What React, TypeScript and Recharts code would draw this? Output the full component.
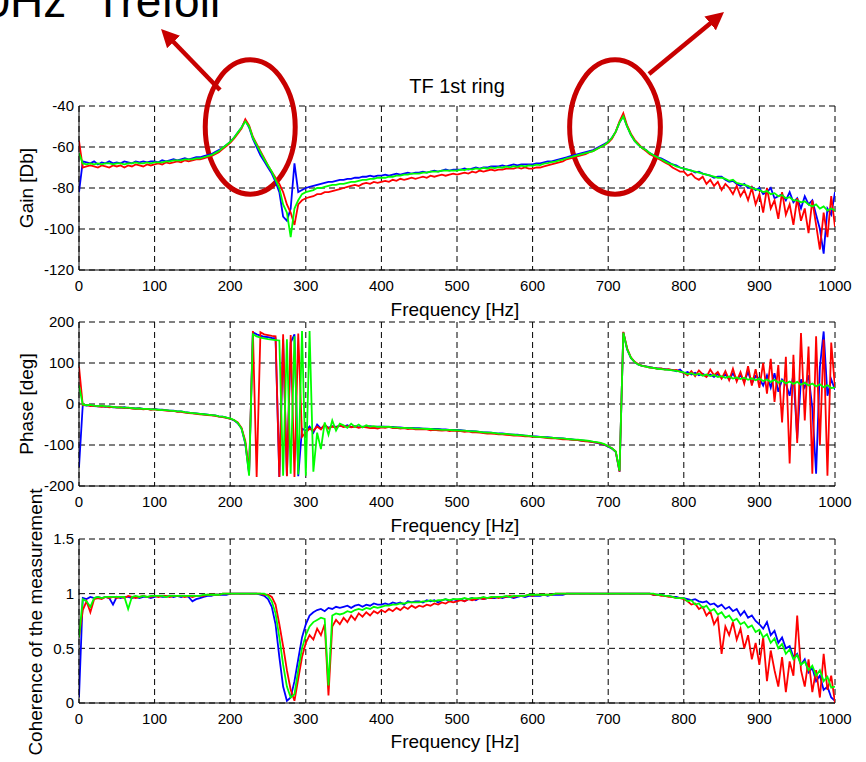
import React from "react";
import { LineChart, Line, XAxis, YAxis, CartesianGrid, ReferenceArea } from "recharts";

const FONT = "'Liberation Sans', Arial, Helvetica, sans-serif";

// frequency grid is every 5 Hz from 0 to 1000
const FREQ_STEP = 5;
const freqTicks = [0, 100, 200, 300, 400, 500, 600, 700, 800, 900, 1000];
const gainTicks = [-120, -100, -80, -60, -40];
const phaseTicks = [-200, -100, 0, 100, 200];
const cohTicks = [0, 0.5, 1, 1.5];

// Gain [Db]
const gainBlue = [
  -82, -67, -67.5, -68, -67, -68.5, -67.5, -68, -67, -68,
  -67.5, -68, -67, -67.5, -68, -67, -67.5, -67, -67.5, -67,
  -67, -67.5, -66.5, -67, -66.5, -66, -66.5, -66, -65.5, -66,
  -65.5, -65, -65, -64.5, -64, -63.5, -62.5, -61.5, -60.5, -59,
  -57.5, -55.5, -53, -50.5, -47, -50.5, -56, -60, -64, -67,
  -70, -73, -77, -82, -94, -96, -90, -68, -82, -81,
  -80, -79.5, -79, -78.5, -78, -77.5, -77, -77, -76.5, -76,
  -76, -75.5, -75.5, -75, -75, -74.5, -74.5, -74, -74.5, -74,
  -74, -73.5, -74, -73.5, -73, -73.5, -73, -72.5, -73, -72.5,
  -72.5, -72, -72.5, -72, -71.5, -72, -71.5, -71, -71.5, -71,
  -71, -71, -70.5, -71, -70.5, -70, -70.5, -70, -70, -69.5,
  -69.5, -69.5, -69, -69.5, -69, -68.5, -69, -68.5, -68.5, -68.5,
  -68.5, -68, -68, -67.5, -67, -67, -66.5, -66, -65.5, -65,
  -64.5, -64, -63.5, -63, -62.5, -62, -61.5, -60.5, -59.5, -58.5,
  -57.5, -55.5, -52.5, -48, -45, -50, -54, -57, -59, -60.5,
  -61.5, -63, -64, -65, -65.5, -66.5, -67.5, -68.5, -69, -70,
  -70.5, -71, -71.5, -72.5, -72, -73, -73.5, -74, -75, -74.5,
  -74.5, -76, -77, -76.5, -78, -79, -78, -80, -79.5, -81,
  -80, -83, -82, -80, -85, -84, -83, -86, -82, -87,
  -85, -90, -84, -88, -86, -93, -100, -112, -90, -93,
  -82,
];
const gainRed = [
  -57, -70, -69.5, -69, -69.5, -70, -69, -69.5, -70, -69,
  -69.5, -69, -70, -69, -69.5, -68.5, -69, -69.5, -68.5, -69,
  -68.5, -68, -68.5, -67.5, -68, -67.5, -67, -67.5, -66.5, -67,
  -66.5, -66, -66, -65.5, -65, -64.5, -63.5, -62.5, -61, -59.5,
  -58, -56, -53.5, -51, -46.5, -49.5, -55, -58.5, -62, -65.5,
  -69, -72, -75, -78, -82, -88, -92, -98, -88, -86,
  -85, -84.5, -84, -83, -83, -82, -82, -81.5, -81, -80.5,
  -80, -79.5, -79, -78.5, -79, -78, -77.5, -78, -77, -77.5,
  -77, -76.5, -77, -76, -76.5, -75.5, -76, -75.5, -75, -75.5,
  -75, -74.5, -75, -74, -74.5, -74, -73.5, -74, -73.5, -73,
  -73.5, -73, -72.5, -73, -72, -72.5, -71.5, -72, -71.5, -71,
  -71.5, -71, -71, -70.5, -70.5, -70.5, -70, -70.5, -70, -70.5,
  -70.5, -70, -70, -69.5, -69, -68.5, -68, -67.5, -67, -66,
  -65.5, -65, -64.5, -64, -63.5, -62.5, -62, -61, -60, -59,
  -58, -56, -52.5, -47.5, -43.5, -49.5, -53.5, -56.5, -58.5, -60.5,
  -62, -63.5, -64.5, -65.5, -66.5, -67.5, -68.5, -70, -71, -72,
  -72, -74, -73, -75, -76, -74.5, -78, -76, -79, -77,
  -81, -78, -80, -83, -79, -84, -81, -86, -80, -88,
  -83, -92, -80, -90, -86, -95, -82, -93, -88, -98,
  -85, -96, -90, -102, -86, -98, -110, -92, -104, -84,
  -99,
];
const gainGreen = [
  -63, -68, -68.5, -68, -68.5, -68, -68.5, -68, -68, -68.5,
  -68, -68, -68.5, -68, -68, -67.5, -68, -68, -67.5, -68,
  -67.5, -67.5, -67.5, -67, -67, -66.5, -66.5, -66.5, -66, -66,
  -66, -65.5, -65.5, -65, -64.5, -64, -63, -62, -60.5, -59,
  -57.5, -55.5, -53, -50.5, -47.5, -50, -55.5, -59, -62.5, -66,
  -69, -72, -76, -80, -88, -92, -104, -90, -86, -83,
  -82, -81.5, -81, -80, -80, -79.5, -79, -78.5, -78.5, -78,
  -78, -77.5, -77, -77, -76.5, -76, -76, -75.5, -75.5, -75,
  -75, -75, -74.5, -74.5, -74, -74, -73.5, -73.5, -73, -73,
  -73, -72.5, -72.5, -72, -72, -72, -71.5, -71.5, -71.5, -71.5,
  -71.5, -71, -71.3, -70.7, -71, -70.4, -70.8, -70.2, -70.6, -70,
  -70.3, -69.8, -70.1, -69.5, -69.9, -69.3, -69.7, -69.1, -69.5, -69,
  -69.2, -68.6, -68.8, -68.1, -67.9, -67.4, -67.1, -66.5, -66.2, -65.5,
  -65, -64.5, -64, -63.5, -63, -62.5, -62, -61, -60, -59,
  -57.5, -55.5, -52.5, -48, -45, -50, -54, -57, -59, -60.5,
  -61.5, -63, -64, -65, -66, -67, -68, -68.5, -69.5, -70,
  -70.5, -71, -71.5, -72, -72.5, -73, -73.5, -74, -74.5, -75,
  -75, -75.5, -76.5, -76, -77.5, -78, -78.5, -79, -80, -80.5,
  -81, -82, -81.5, -83, -82.5, -84, -83.5, -85, -84.5, -86,
  -86, -87, -86.5, -88, -89, -88, -90, -89, -91, -90,
  -91,
];

// Phase [deg]
const phaseBlue = [
  -154, -2, -4, -3, -5, -6, -5, -7, -6, -8,
  -8, -9, -8, -10, -10, -11, -10, -12, -12, -13,
  -12, -14, -14, -15, -16, -16, -18, -18, -20, -21,
  -22, -23, -24, -25, -26, -27, -28, -30, -31, -33,
  -36, -40, -47, -60, -97, -170, 175, 170, 167, 164,
  163, 161, 160, -178, 158, -175, 150, 170, -176, -60,
  -65, -55, -70, -50, -60, -52, -58, -54, -56, -53,
  -55, -52, -56, -54, -57, -55, -56, -54, -56, -55,
  -55, -55, -56, -56, -57, -57, -58, -58, -58, -59,
  -59, -60, -60, -61, -61, -61, -62, -62, -63, -63,
  -63, -64, -65, -66, -66, -67, -68, -69, -69, -70,
  -71, -72, -72, -73, -74, -75, -75, -76, -77, -78,
  -79, -79, -80, -81, -81, -82, -83, -83, -84, -85,
  -86, -87, -88, -89, -90, -91, -93, -95, -97, -100,
  -104, -109, -117, -165, 175, 133, 112, 102, 96, 93,
  92, 90, 88, 87, 86, 85, 84, 83, 80, 84,
  75, 78, 72, 76, 70, 74, 68, 72, 66, 73,
  64, 72, 60, 75, 58, 70, 55, 78, 50, 68,
  62, 45, 70, 40, 75, 30, 60, 50, 20, 72,
  -84, 60, 40, 70, -10, -170, 90, 177, 20, 60,
  35,
];
const phaseRed = [
  91, -3, -2, -5, -4, -6, -7, -6, -8, -7,
  -9, -8, -10, -9, -11, -12, -11, -13, -12, -14,
  -13, -15, -15, -16, -17, -17, -19, -19, -21, -22,
  -23, -24, -25, -26, -27, -28, -29, -31, -32, -34,
  -36, -39, -45, -58, -90, -165, 178, -178, 175, 170,
  168, 166, 165, -178, 170, -176, 168, -178, 172, -80,
  -70, -60, -65, -55, -62, -50, -60, -55, -58, -52,
  -56, -54, -57, -55, -58, -56, -57, -59, -58, -60,
  -57, -58, -56, -59, -58, -60, -59, -61, -60, -62,
  -61, -62, -62, -64, -63, -64, -65, -64, -66, -65,
  -66, -66, -68, -67, -69, -69, -70, -71, -72, -72,
  -73, -74, -74, -75, -76, -77, -77, -78, -79, -79,
  -80, -81, -81, -82, -83, -84, -84, -85, -86, -86,
  -87, -88, -88, -90, -91, -92, -93, -94, -96, -99,
  -103, -108, -116, -165, 176, 136, 114, 103, 97, 93,
  91, 89, 88, 86, 87, 84, 85, 82, 83, 79,
  76, 70, 80, 68, 82, 72, 66, 84, 70, 78,
  62, 80, 58, 86, 55, 78, 50, 92, 45, 85,
  40, 100, 25, 110, 5, 95, -45, 115, -145, 120,
  -95, 173, -40, 140, -170, 165, -100, 157, -175, 150,
  40,
];
const phaseGreen = [
  45, -1, -3, -2, -4, -5, -4, -6, -6, -7,
  -8, -8, -9, -9, -10, -11, -11, -12, -12, -13,
  -13, -14, -15, -15, -16, -17, -18, -18, -20, -21,
  -22, -23, -24, -25, -26, -27, -28, -30, -31, -33,
  -35, -39, -46, -60, -95, -175, 170, 165, 162, 160,
  158, 157, 156, 155, -175, 158, -170, 165, -172, 178,
  -175, 178, -165, -70, -110, -45, -75, -40, -65, -48,
  -52, -58, -48, -56, -50, -57, -52, -55, -54, -56,
  -55, -56, -55, -57, -57, -58, -58, -59, -59, -60,
  -60, -60, -61, -61, -62, -62, -63, -63, -63, -64,
  -64, -65, -65, -66, -67, -67, -68, -69, -70, -70,
  -71, -72, -73, -73, -74, -75, -76, -76, -77, -78,
  -79, -80, -80, -81, -82, -82, -83, -84, -84, -85,
  -86, -87, -87, -88, -89, -90, -92, -93, -95, -98,
  -103, -108, -116, -163, 174, 134, 113, 102, 96, 93,
  91, 89, 88, 86, 85, 84, 83, 82, 81, 79,
  77, 73, 75, 71, 74, 69, 72, 68, 71, 66,
  68, 64, 67, 62, 65, 61, 64, 59, 63, 58,
  62, 56, 60, 54, 59, 52, 57, 50, 55, 49,
  54, 47, 52, 45, 50, 43, 48, 41, 46, 39,
  40,
];

// Coherence
const cohBlue = [
  0.05, 0.96, 0.95, 0.97, 0.96, 0.97, 0.96, 0.97, 0.96, 0.9,
  0.97, 0.96, 0.97, 0.97, 0.96, 0.97, 0.96, 0.97, 0.97, 0.96,
  0.97, 0.98, 0.97, 0.97, 0.98, 0.97, 0.98, 0.97, 0.98, 0.97,
  0.93, 0.95, 0.96, 0.97, 0.98, 0.98, 0.99, 0.99, 0.99, 0.99,
  1, 1, 1, 1, 1, 1, 1, 1, 0.99, 0.98,
  0.95, 0.88, 0.72, 0.42, 0.15, 0.02, 0.05, 0.2, 0.4, 0.6,
  0.72, 0.8, 0.83, 0.85, 0.86, 0.84, 0.87, 0.86, 0.88, 0.87,
  0.88, 0.89, 0.87, 0.89, 0.9, 0.88, 0.9, 0.89, 0.91, 0.9,
  0.9, 0.91, 0.9, 0.92, 0.91, 0.92, 0.9, 0.93, 0.92, 0.93,
  0.93, 0.92, 0.94, 0.93, 0.94, 0.92, 0.94, 0.95, 0.93, 0.95,
  0.94, 0.95, 0.93, 0.95, 0.96, 0.94, 0.96, 0.95, 0.96, 0.96,
  0.96, 0.97, 0.96, 0.97, 0.97, 0.96, 0.97, 0.98, 0.97, 0.98,
  0.98, 0.98, 0.98, 0.99, 0.98, 0.99, 0.99, 0.99, 0.99, 1,
  1, 1, 1, 1, 1, 1, 1, 1, 1, 1,
  1, 1, 1, 1, 1, 1, 1, 1, 1, 1,
  1, 1, 0.99, 0.99, 0.99, 0.98, 0.98, 0.97, 0.97, 0.96,
  0.96, 0.95, 0.94, 0.95, 0.93, 0.92, 0.93, 0.9, 0.91, 0.88,
  0.9, 0.86, 0.88, 0.84, 0.86, 0.8, 0.84, 0.78, 0.8, 0.75,
  0.72, 0.68, 0.74, 0.62, 0.66, 0.55, 0.6, 0.5, 0.52, 0.42,
  0.45, 0.35, 0.4, 0.28, 0.32, 0.2, 0.25, 0.12, 0.15, 0.05,
  0.02,
];
const cohRed = [
  0.6, 0.85, 0.93, 0.83, 0.95, 0.96, 0.95, 0.97, 0.96, 0.97,
  0.96, 0.97, 0.96, 0.98, 0.97, 0.96, 0.97, 0.98, 0.97, 0.97,
  0.98, 0.97, 0.98, 0.98, 0.97, 0.98, 0.98, 0.98, 0.97, 0.98,
  0.97, 0.98, 0.98, 0.98, 0.99, 0.99, 0.99, 0.99, 1, 1,
  1, 1, 1, 1, 1, 1, 1, 1, 1, 0.99,
  0.99, 0.97, 0.9, 0.72, 0.52, 0.3, 0.12, 0.02, 0.22, 0.42,
  0.55, 0.62, 0.58, 0.68, 0.62, 0.72, 0.07, 0.7, 0.76, 0.72,
  0.78, 0.74, 0.8, 0.76, 0.82, 0.79, 0.83, 0.8, 0.84, 0.82,
  0.85, 0.83, 0.86, 0.84, 0.87, 0.85, 0.88, 0.86, 0.89, 0.87,
  0.89, 0.88, 0.9, 0.89, 0.91, 0.9, 0.92, 0.91, 0.93, 0.92,
  0.93, 0.94, 0.93, 0.95, 0.94, 0.95, 0.96, 0.95, 0.96, 0.96,
  0.97, 0.96, 0.97, 0.97, 0.98, 0.97, 0.98, 0.98, 0.98, 0.99,
  0.98, 0.99, 0.99, 0.99, 0.99, 0.99, 1, 1, 1, 1,
  1, 1, 1, 1, 1, 1, 1, 1, 1, 1,
  1, 1, 1, 1, 1, 1, 1, 1, 1, 1,
  1, 1, 0.99, 0.99, 0.98, 0.98, 0.97, 0.97, 0.96, 0.96,
  0.95, 0.93, 0.9, 0.91, 0.86, 0.88, 0.8, 0.84, 0.72, 0.78,
  0.45, 0.7, 0.62, 0.74, 0.58, 0.68, 0.5, 0.62, 0.4, 0.55,
  0.35, 0.6, 0.2, 0.48, 0.3, 0.15, 0.42, 0.1, 0.38, 0.25,
  0.8, 0.3, 0.15, 0.4, 0.1, 0.3, 0.05, 0.45, 0.12, 0.25,
  0,
];
const cohGreen = [
  0.6, 0.95, 0.93, 0.88, 0.96, 0.97, 0.96, 0.97, 0.97, 0.97,
  0.97, 0.97, 0.97, 0.86, 0.97, 0.98, 0.97, 0.98, 0.97, 0.98,
  0.98, 0.98, 0.98, 0.97, 0.98, 0.98, 0.98, 0.98, 0.98, 0.98,
  0.98, 0.98, 0.98, 0.99, 0.99, 0.99, 0.99, 0.99, 1, 1,
  1, 1, 1, 1, 1, 1, 1, 1, 1, 1,
  0.98, 0.93, 0.82, 0.6, 0.35, 0.15, 0.05, 0.08, 0.3, 0.5,
  0.62, 0.7, 0.74, 0.76, 0.78, 0.77, 0.16, 0.8, 0.82, 0.81,
  0.82, 0.84, 0.83, 0.85, 0.86, 0.85, 0.87, 0.86, 0.88, 0.87,
  0.88, 0.89, 0.89, 0.9, 0.9, 0.91, 0.91, 0.92, 0.92, 0.92,
  0.92, 0.93, 0.93, 0.94, 0.93, 0.94, 0.94, 0.95, 0.94, 0.95,
  0.95, 0.95, 0.96, 0.95, 0.96, 0.96, 0.96, 0.97, 0.96, 0.97,
  0.97, 0.97, 0.97, 0.98, 0.97, 0.98, 0.98, 0.98, 0.98, 0.99,
  0.99, 0.99, 0.99, 0.99, 0.99, 0.99, 1, 1, 1, 1,
  1, 1, 1, 1, 1, 1, 1, 1, 1, 1,
  1, 1, 1, 1, 1, 1, 1, 1, 1, 1,
  1, 1, 1, 0.99, 0.99, 0.98, 0.98, 0.97, 0.96, 0.96,
  0.96, 0.93, 0.94, 0.9, 0.91, 0.87, 0.89, 0.84, 0.86, 0.81,
  0.83, 0.78, 0.8, 0.75, 0.77, 0.72, 0.74, 0.69, 0.71, 0.65,
  0.67, 0.6, 0.63, 0.55, 0.59, 0.5, 0.54, 0.45, 0.49, 0.4,
  0.44, 0.35, 0.38, 0.3, 0.34, 0.25, 0.3, 0.2, 0.24, 0.14,
  0.15,
];

// the two circled resonances, in Hz / dB
const resonanceMarks = [
  { x1: 167, x2: 286, y1: -83, y2: -17.5 },
  { x1: 649, x2: 769, y1: -83, y2: -17.5 },
];

const freq = gainBlue.map((_, i) => i * FREQ_STEP);
const makeRows = (b: number[], r: number[], g: number[]) =>
  freq.map((f, i) => ({ f, b: b[i], r: r[i], g: g[i] }));

const gainRows = makeRows(gainBlue, gainRed, gainGreen);
const phaseRows = makeRows(phaseBlue, phaseRed, phaseGreen);
const cohRows = makeRows(cohBlue, cohRed, cohGreen);

const MARK_RED = "#C80000";
const tickStyle = { fill: "#000", fontSize: 15, fontFamily: FONT };

const ellipseShape = (props: any) => {
  const { x, y, width, height } = props;
  return (
    <ellipse
      cx={x + width / 2}
      cy={y + height / 2}
      rx={Math.abs(width) / 2}
      ry={Math.abs(height) / 2}
      fill="none"
      stroke={MARK_RED}
      strokeWidth={5}
    />
  );
};

type PanelProps = {
  top: number;
  height: number;
  marginTop: number;
  data: any[];
  domain: [number, number];
  ticks: number[];
  children?: React.ReactNode;
};

function Panel({ top, height, marginTop, data, domain, ticks, children }: PanelProps) {
  return (
    <div style={{ position: "absolute", left: 0, top }}>
      <LineChart
        width={866}
        height={height}
        data={data}
        margin={{ top: marginTop, right: 31, bottom: 0, left: 0 }}
      >
        <CartesianGrid stroke="#000" strokeDasharray="6 4" strokeWidth={1} />
        <XAxis
          dataKey="f"
          type="number"
          domain={[0, 1000]}
          ticks={freqTicks}
          interval={0}
          height={40}
          tickSize={0}
          tickMargin={10}
          tickLine={false}
          axisLine={{ stroke: "#000", strokeWidth: 1 }}
          tick={tickStyle}
          allowDataOverflow
        />
        <YAxis
          type="number"
          domain={domain}
          ticks={ticks}
          interval={0}
          width={79}
          tickSize={0}
          tickMargin={5}
          tickLine={false}
          axisLine={{ stroke: "#000", strokeWidth: 1 }}
          tick={tickStyle}
          allowDataOverflow
        />
        <Line type="linear" dataKey="b" stroke="#0000FF" strokeWidth={1.8} dot={false} activeDot={false} isAnimationActive={false} />
        <Line type="linear" dataKey="r" stroke="#FF0000" strokeWidth={1.8} dot={false} activeDot={false} isAnimationActive={false} />
        <Line type="linear" dataKey="g" stroke="#00FF00" strokeWidth={1.8} dot={false} activeDot={false} isAnimationActive={false} />
        {children}
      </LineChart>
    </div>
  );
}

export default function App() {
  const labelFont = { fontFamily: FONT, fontSize: 19, fill: "#000" };
  return (
    <div
      style={{
        position: "absolute",
        left: 0,
        top: 0,
        width: 866,
        height: 762,
        background: "#fff",
        overflow: "hidden",
        fontFamily: FONT,
      }}
    >
      <Panel top={0} height={310} marginTop={106} data={gainRows} domain={[-120, -40]} ticks={gainTicks}>
        {resonanceMarks.map((m, i) => (
          <ReferenceArea
            key={i}
            x1={m.x1}
            x2={m.x2}
            y1={m.y1}
            y2={m.y2}
            ifOverflow="visible"
            shape={ellipseShape}
          />
        ))}
      </Panel>
      <Panel top={300} height={226} marginTop={22} data={phaseRows} domain={[-200, 200]} ticks={phaseTicks} />
      <Panel top={520} height={223} marginTop={19} data={cohRows} domain={[0, 1.5]} ticks={cohTicks} />

      <svg
        width={866}
        height={762}
        style={{ position: "absolute", left: 0, top: 0, pointerEvents: "none" }}
      >
        <defs>
          <marker id="arrowHead" markerWidth="4" markerHeight="4" refX="2" refY="2" orient="auto" markerUnits="strokeWidth">
            <path d="M0,0 L4,2 L0,4 z" fill={MARK_RED} />
          </marker>
        </defs>
        <text x={-15.6} y={17} fontFamily={FONT} fontSize={46} fill="#000">0Hz</text>
        <text x={94} y={17} fontFamily={FONT} fontSize={46} fill="#000">Trefoil</text>
        <line x1={220} y1={90} x2={167.3} y2={35.5} stroke={MARK_RED} strokeWidth={4.5} markerEnd="url(#arrowHead)" />
        <line x1={649} y1={74} x2={717.1} y2={17.7} stroke={MARK_RED} strokeWidth={4.5} markerEnd="url(#arrowHead)" />

        <text x={457} y={93} textAnchor="middle" fontFamily={FONT} fontSize={20} fill="#000">TF 1st ring</text>
        <text x={455} y={315.5} textAnchor="middle" {...labelFont}>Frequency [Hz]</text>
        <text x={455} y={531.5} textAnchor="middle" {...labelFont}>Frequency [Hz]</text>
        <text x={455} y={748} textAnchor="middle" {...labelFont}>Frequency [Hz]</text>
        <text transform="translate(33,188) rotate(-90)" textAnchor="middle" {...labelFont}>Gain [Db]</text>
        <text transform="translate(33,404) rotate(-90)" textAnchor="middle" {...labelFont}>Phase [deg]</text>
        <text transform="translate(41.5,622) rotate(-90)" textAnchor="middle" {...labelFont}>Coherence of the measurement</text>
      </svg>
    </div>
  );
}
